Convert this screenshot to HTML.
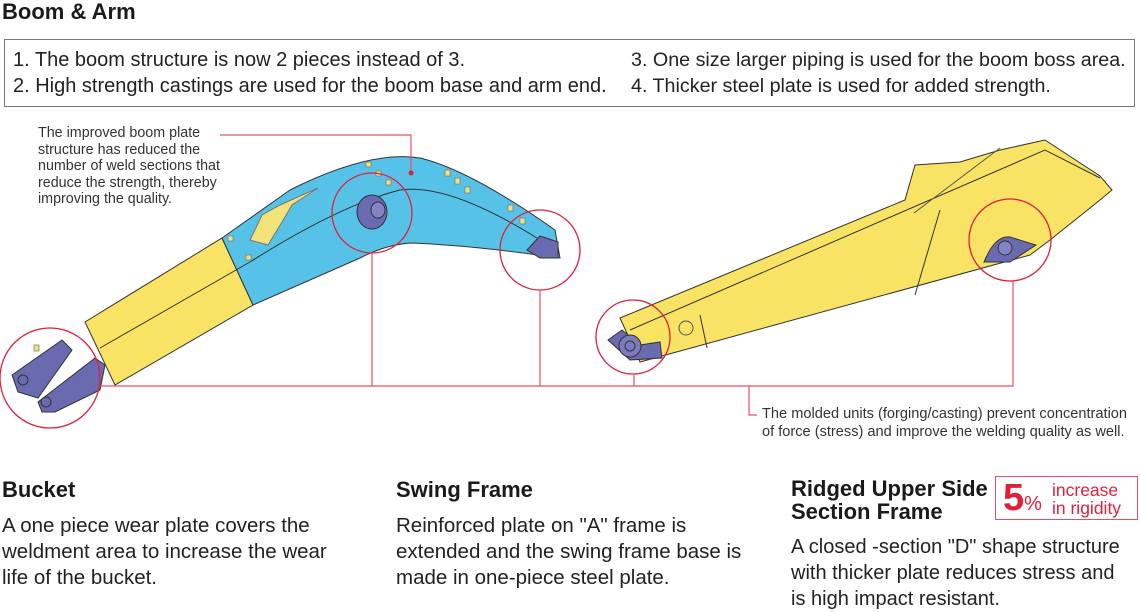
<!DOCTYPE html>
<html><head><meta charset="utf-8"><style>
body{margin:0;width:1140px;height:611px;background:#fff;font-family:"Liberation Sans",sans-serif;color:#222;position:relative;overflow:hidden}
.a{position:absolute;white-space:nowrap}
.h{font-size:22px;font-weight:bold;color:#1a1a1a}
.p{font-size:20.5px;line-height:26px;color:#222}
</style></head><body>
<div class="a" style="left:2px;top:-1px;font-size:22px;font-weight:bold;color:#1a1a1a">Boom &amp; Arm</div>
<div class="a" style="left:4px;top:39px;width:1129px;height:66px;border:1.5px solid #777"></div>
<div class="a" style="left:13px;top:47px;font-size:20px;line-height:26px">1. The boom structure is now 2 pieces instead of 3.<br>2. High strength castings are used for the boom base and arm end.</div>
<div class="a" style="left:631px;top:47px;font-size:19.7px;line-height:26px">3. One size larger piping is used for the boom boss area.<br>4. Thicker steel plate is used for added strength.</div>

<svg class="a" style="left:0;top:0" width="1140" height="611">
<polygon points="85,322 222,238 253,305 115,385" fill="#f9e364" stroke="#333" stroke-width="1"/>
<path d="M222,238 L290,190 Q370,150 420,158 Q470,170 555,230 L560,258 Q470,245 410,243 Q385,245 360,258 L253,305 Z" fill="#56c2e8" stroke="#333" stroke-width="1"/>
<path d="M100,348 L250,262 Q340,205 400,190 Q450,183 540,240" fill="none" stroke="#333" stroke-width="1"/>
<path d="M250,240 L262,215 L280,205 L318,188 L292,205 L282,222 L268,245 Z" fill="#f2e27a" stroke="#777" stroke-width="1"/>
<g fill="#f2e27a" stroke="#777" stroke-width="0.7">
<rect x="366" y="162" width="5" height="5"/><rect x="376" y="171" width="5" height="5"/><rect x="386" y="180" width="5" height="5"/>
<rect x="445" y="170" width="5" height="6"/><rect x="455" y="178" width="5" height="6"/><rect x="465" y="187" width="5" height="6"/>
<rect x="508" y="205" width="5" height="6"/><rect x="520" y="218" width="5" height="6"/>
<rect x="228" y="236" width="5" height="5"/><rect x="246" y="255" width="5" height="5"/><rect x="34" y="345" width="5" height="6"/>
</g>
<ellipse cx="372" cy="212" rx="15" ry="17" fill="#6a6ab0" stroke="#333"/>
<ellipse cx="378" cy="210" rx="7" ry="8" fill="#8383c6" stroke="#333"/>
<path d="M527,250 L540,236 L558,242 L558,258 L540,258 Z" fill="#6a6ab0" stroke="#333"/>
<path d="M12,375 L62,340 L72,350 L38,398 L18,392 Z" fill="#6a6ab0" stroke="#333"/>
<path d="M38,402 L95,358 L105,365 L100,390 L55,412 L42,412 Z" fill="#6a6ab0" stroke="#333"/>
<circle cx="23" cy="380" r="5" fill="none" stroke="#333"/><circle cx="46" cy="402" r="5" fill="none" stroke="#333"/>
<polygon points="620,318 905,200 915,165 960,162 1000,150 1045,140 1100,176 1112,190 1100,200 1050,240 1030,255 640,362" fill="#f9e364" stroke="#333" stroke-width="1"/>
<path d="M630,330 L1045,150 L1100,178" fill="none" stroke="#333"/>
<path d="M914,213 L1000,148" fill="none" stroke="#555"/>
<line x1="940" y1="210" x2="915" y2="295" stroke="#333"/>
<line x1="700" y1="315" x2="707" y2="348" stroke="#333"/>
<circle cx="686" cy="328" r="7" fill="none" stroke="#555"/>
<path d="M984,262 Q995,235 1010,237 L1036,245 L1010,262 Z" fill="#6a6ab0" stroke="#333"/>
<circle cx="1005" cy="248" r="7" fill="#8383c6" stroke="#333"/>
<path d="M608,340 L622,330 L640,345 L660,342 L662,358 L630,360 Z" fill="#6a6ab0" stroke="#333"/>
<circle cx="630" cy="346" r="11" fill="#7b7bbe" stroke="#333"/><circle cx="630" cy="346" r="5" fill="none" stroke="#333"/>
<g fill="none" stroke="#e0203a" stroke-width="1.3">
<circle cx="50" cy="378" r="50"/><circle cx="372" cy="213" r="40"/><circle cx="540" cy="250" r="40"/>
<circle cx="633" cy="337" r="37"/><circle cx="1010" cy="240" r="41"/>
</g>
<g fill="none" stroke="#e8506a" stroke-width="1.2">
<polyline points="100,386 1013,386 1013,281"/>
<line x1="372" y1="253" x2="372" y2="386"/><line x1="540" y1="290" x2="540" y2="386"/>
<line x1="634" y1="374" x2="634" y2="386"/>
<polyline points="749,386 749,415 757,415"/>
<polyline points="220,135 411,135 411,172"/>
</g>
<circle cx="411" cy="173" r="2.5" fill="#e0203a"/>
</svg>

<div class="a" style="left:38px;top:125px;font-size:14.3px;line-height:16.5px;color:#333">The improved boom plate<br>structure has reduced the<br>number of weld sections that<br>reduce the strength, thereby<br>improving the quality.</div>
<div class="a" style="left:762px;top:405px;font-size:14.6px;line-height:18px;color:#333">The molded units (forging/casting) prevent concentration<br>of force (stress) and improve the welding quality as well.</div>

<div class="a h" style="left:2px;top:477px">Bucket</div>
<div class="a p" style="left:2px;top:513px">A one piece wear plate covers the<br>weldment area to increase the wear<br>life of the bucket.</div>
<div class="a h" style="left:396px;top:477px">Swing Frame</div>
<div class="a p" style="left:396px;top:513px">Reinforced plate on "A" frame is<br>extended and the swing frame base is<br>made in one-piece steel plate.</div>
<div class="a h" style="left:791px;top:477px;line-height:23px">Ridged Upper Side<br>Section Frame</div>
<div class="a" style="left:791px;top:534px;font-size:20px;line-height:26px">A closed -section "D" shape structure<br>with thicker plate reduces stress and<br>is high impact resistant.</div>
<div class="a" style="left:995px;top:476px;width:143px;height:44px;border:1.5px solid #e0506a;box-sizing:border-box"></div>
<div class="a" style="left:1003px;top:478px;color:#e0203a;font-weight:bold;font-size:38px;line-height:40px">5<span style="font-size:20px;font-weight:normal">%</span></div>
<div class="a" style="left:1052px;top:481px;color:#e0203a;font-size:17.5px;line-height:18px">increase<br>in rigidity</div>
</body></html>
